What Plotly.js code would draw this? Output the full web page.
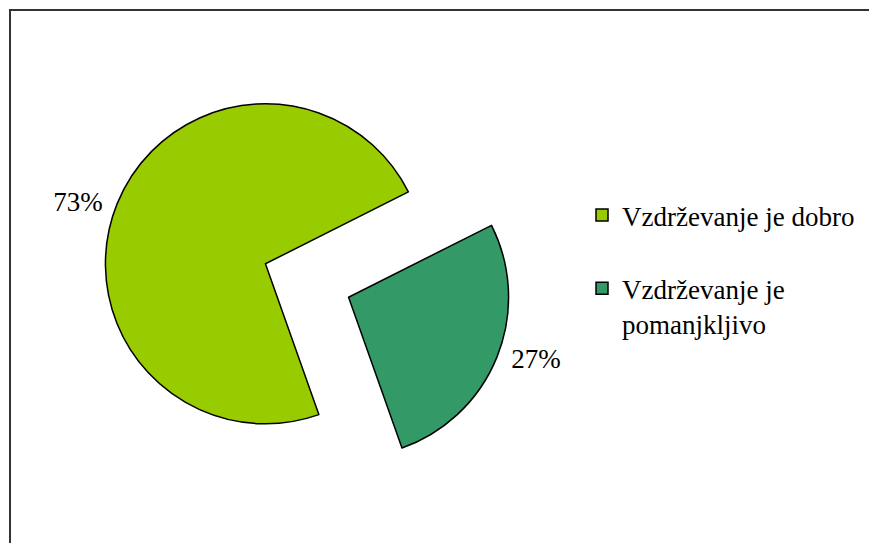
<!DOCTYPE html>
<html>
<head>
<meta charset="utf-8">
<script src="https://cdn.plot.ly/plotly-3.0.1.min.js"></script>
<style>
html,body{margin:0;padding:0;background:#fff;}
#chart{width:869px;height:543px;}
</style>
</head>
<body>
<div id="chart"></div>
<script>
var categories = ["Vzdrževanje je dobro<br> ", "Vzdrževanje je<br>pomanjkljivo"];
var values = [73, 27];
var sliceColors = ["#99CC00", "#339966"];
var labelTemplates = ["%{percent:.0%}\u00a0", "\u00a0%{percent:.0%}"];

var W = 869, H = 543;
var FONT = "Liberation Serif";
var trace = {
  type: "pie",
  labels: categories,
  values: values,
  sort: false,
  direction: "clockwise",
  rotation: 160.5,
  pull: [0.28, 0.28],
  marker: {colors: sliceColors, line: {color: "#000000", width: 1.5}},
  textinfo: "percent",
  textposition: "outside",
  texttemplate: labelTemplates,
  textfont: {family: FONT, size: 27, color: "#000000"},
  hoverinfo: "label+percent",
  domain: {x: [102.2 / W, 511.8 / W], y: [1 - 485.3 / H, 1 - 75.7 / H]}
};

var layout = {
  width: W, height: H,
  margin: {l: 0, r: 0, t: 0, b: 0},
  paper_bgcolor: "#ffffff",
  plot_bgcolor: "#ffffff",
  font: {family: FONT, color: "#000000"},
  showlegend: true,
  legend: {
    x: 582 / W, xanchor: "left",
    y: 1 - 191 / H, yanchor: "top",
    valign: "top",
    font: {family: FONT, size: 27, color: "#000000"},
    bgcolor: "rgba(0,0,0,0)"
  },
  shapes: [{
    type: "rect", xref: "paper", yref: "paper",
    x0: 10 / W, x1: 1.02, y0: -0.02, y1: 1 - 10 / H,
    line: {color: "#333333", width: 2}
  }]
};

Plotly.newPlot("chart", [trace], layout, {displayModeBar: false, staticPlot: true});
</script>
</body>
</html>
